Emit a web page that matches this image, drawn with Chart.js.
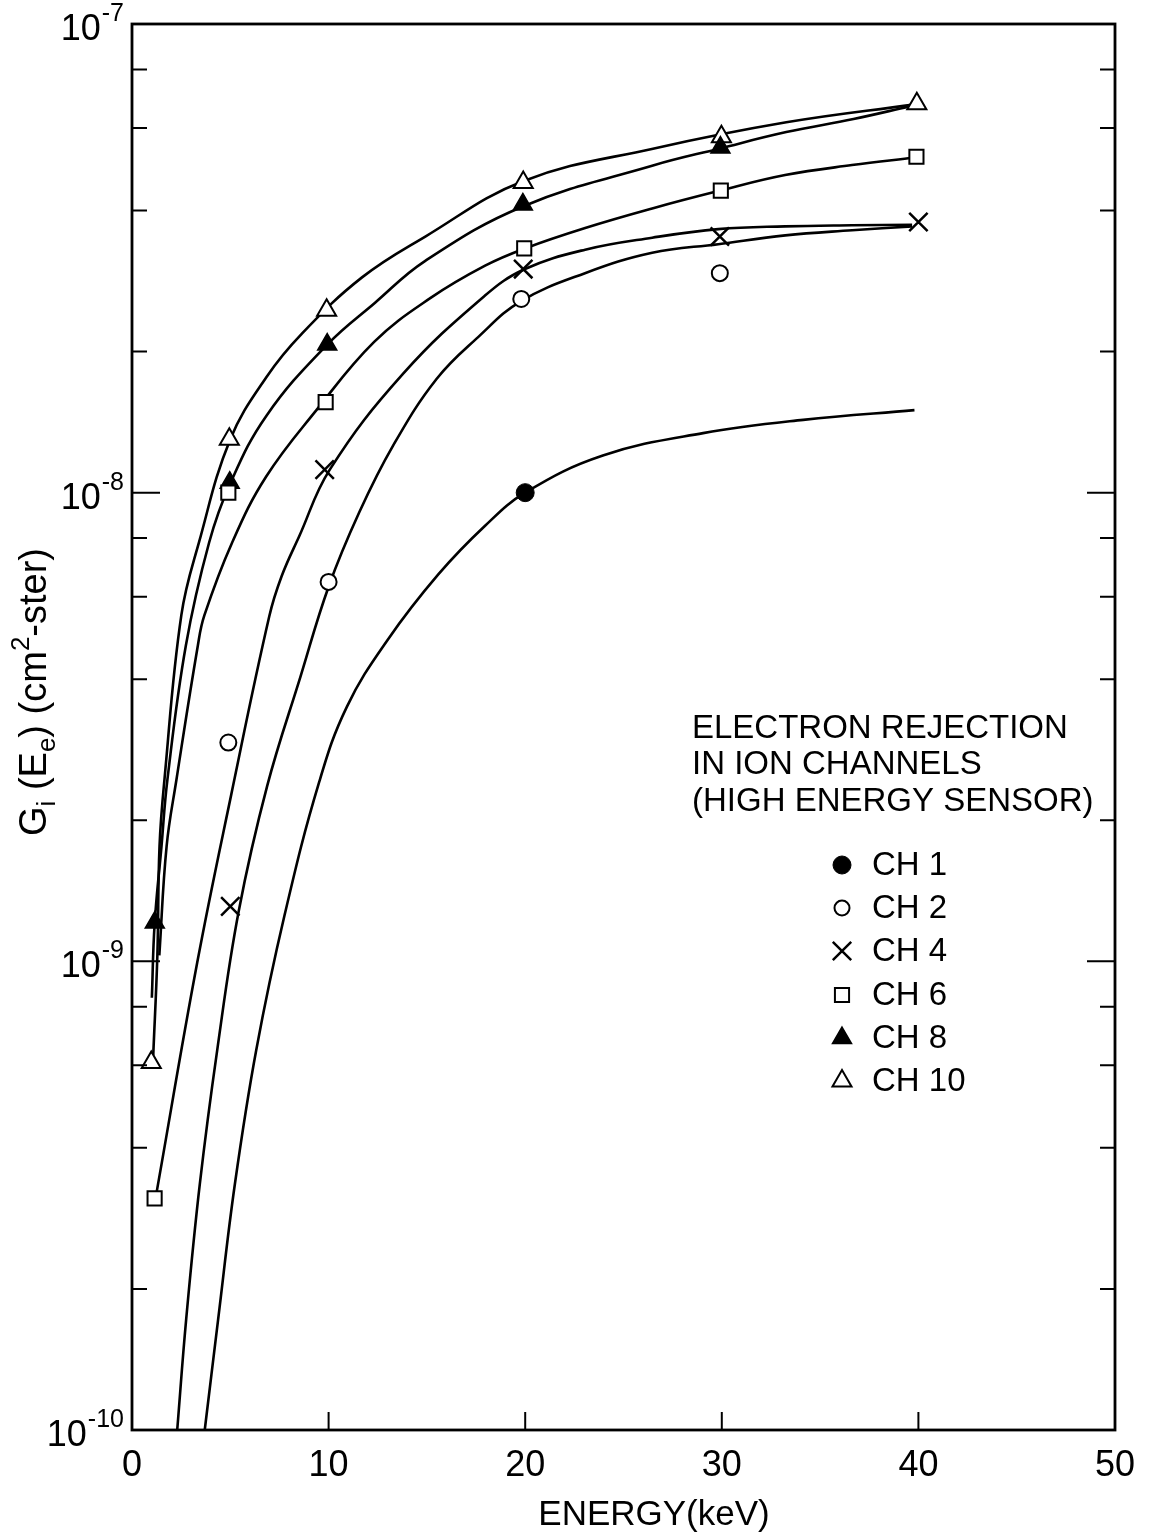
<!DOCTYPE html>
<html>
<head>
<meta charset="utf-8">
<script src="https://cdn.jsdelivr.net/npm/chart.js@4.4.1/dist/chart.umd.min.js"></script>
<style>
  html, body { margin: 0; padding: 0; background: #fff; }
  #wrap { width: 1161px; height: 1534px; }
</style>
</head>
<body>
<div id="wrap"><canvas id="c" width="1161" height="1534"></canvas></div>
<script>
// ---------------- DATA ----------------
// measured points (energy keV, G in cm^2-ster)
const energyCH1 = [20.0];
const gainCH1   = [1.0e-8];
const energyCH2 = [4.9, 10.0, 19.8, 29.9];
const gainCH2   = [2.93e-9, 6.45e-9, 2.59e-8, 2.94e-8];
const energyCH4 = [5.0, 9.8, 19.9, 29.9, 40.0];
const gainCH4   = [1.31e-9, 1.12e-8, 3.0e-8, 3.52e-8, 3.78e-8];
const energyCH6 = [1.15, 4.9, 9.85, 19.95, 29.95, 39.9];
const gainCH6   = [3.12e-10, 1.0e-8, 1.56e-8, 3.32e-8, 4.41e-8, 5.21e-8];
const energyCH8 = [1.16, 4.97, 9.93, 19.88, 29.93];
const gainCH8   = [1.21e-9, 1.05e-8, 2.07e-8, 4.12e-8, 5.45e-8];
const energyCH10 = [0.98, 4.95, 9.9, 19.9, 29.98, 39.92];
const gainCH10   = [6.08e-10, 1.30e-8, 2.45e-8, 4.59e-8, 5.75e-8, 6.76e-8];

// hand-drawn fit curves
const curveCH1E = [3.7, 4.38, 5.23, 6.32, 7.77, 9.53, 10.94, 13.0, 15.59, 17.96, 20.0, 23.95, 29.05, 34.14, 39.8];
const curveCH1G = [1.0e-10, 1.72e-10, 3.34e-10, 6.47e-10, 1.26e-9, 2.42e-9, 3.5e-9, 4.85e-9, 6.7e-9, 8.5e-9, 1.0e-8, 1.2e-8, 1.34e-8, 1.43e-8, 1.50e-8];
const curveCH2E = [2.3, 2.76, 3.45, 4.34, 5.43, 6.88, 8.57, 10.0, 11.56, 13.28, 15.5, 17.62, 19.77, 23.04, 26.46, 29.82, 33.23, 36.63, 39.68];
const curveCH2G = [1.0e-10, 1.73e-10, 3.35e-10, 6.49e-10, 1.28e-9, 2.37e-9, 4.05e-9, 6.30e-9, 9.08e-9, 1.26e-8, 1.75e-8, 2.15e-8, 2.56e-8, 2.94e-8, 3.25e-8, 3.39e-8, 3.54e-8, 3.63e-8, 3.70e-8];
const curveCH4E = [1.26, 3.32, 5.04, 6.98, 7.61, 8.50, 10.06, 13.77, 17.94, 19.99, 23.05, 26.46, 29.82, 33.22, 36.62, 39.68];
const curveCH4G = [3.23e-10, 9.95e-10, 2.26e-9, 5.44e-9, 6.63e-9, 8.06e-9, 1.12e-8, 1.79e-8, 2.63e-8, 3.0e-8, 3.30e-8, 3.50e-8, 3.65e-8, 3.70e-8, 3.72e-8, 3.73e-8];
const curveCH6E = [1.39, 1.76, 2.26, 3.35, 3.68, 5.09, 6.81, 9.38, 12.33, 15.17, 17.96, 19.99, 23.05, 26.46, 29.82, 33.22, 36.62, 39.82];
const curveCH6G = [1.03e-9, 1.76e-9, 2.44e-9, 4.72e-9, 5.47e-9, 7.82e-9, 1.08e-8, 1.50e-8, 2.10e-8, 2.60e-8, 3.05e-8, 3.32e-8, 3.67e-8, 4.04e-8, 4.40e-8, 4.76e-8, 5.0e-8, 5.19e-8];
const curveCH8E = [1.01, 1.15, 1.50, 1.80, 2.74, 3.92, 4.97, 6.84, 9.93, 12.35, 14.9, 19.88, 26.5, 29.86, 33.28, 36.7, 39.55];
const curveCH8G = [8.36e-10, 1.20e-9, 1.76e-9, 2.44e-9, 4.72e-9, 7.82e-9, 1.04e-8, 1.46e-8, 2.07e-8, 2.54e-8, 3.12e-8, 4.08e-8, 4.99e-8, 5.42e-8, 5.88e-8, 6.27e-8, 6.67e-8];
const curveCH10E = [1.08, 1.29, 1.40, 1.65, 2.51, 3.41, 5.0, 6.86, 8.62, 11.7, 14.92, 19.89, 26.5, 33.28, 39.74];
const curveCH10G = [6.3e-10, 1.03e-9, 1.76e-9, 2.44e-9, 5.48e-9, 7.84e-9, 1.30e-8, 1.77e-8, 2.18e-8, 2.88e-8, 3.52e-8, 4.62e-8, 5.42e-8, 6.17e-8, 6.73e-8];

// axes
const xTicks = [0, 10, 20, 30, 40, 50];
const xInnerTicks = [10, 20, 30, 40];
const yTicks = [1e-10, 2e-10, 4e-10, 6e-10, 8e-10, 1e-9, 2e-9, 4e-9, 6e-9, 8e-9, 1e-8, 2e-8, 4e-8, 6e-8, 8e-8, 1e-7];
const xTitle = 'ENERGY(keV)';
const noteLines = ['ELECTRON REJECTION', 'IN ION CHANNELS', '(HIGH ENERGY SENSOR)'];
const legendLabels = ['CH 1', 'CH 2', 'CH 4', 'CH 6', 'CH 8', 'CH 10'];

// ---------------- STYLE ----------------
const FONT = "'Liberation Sans', Arial, Helvetica, sans-serif";
const markerStyles = [
  { pointStyle: 'circle',   radius: 9,  fill: '#000', borderWidth: 1 },
  { pointStyle: 'circle',   radius: 8,  fill: '#fff', borderWidth: 2 },
  { pointStyle: 'crossRot', radius: 13, fill: '#000', borderWidth: 2.5 },
  { pointStyle: 'rect',     radius: 10, fill: '#fff', borderWidth: 2 },
  { pointStyle: 'triangle', radius: 11, fill: '#000', borderWidth: 1.5 },
  { pointStyle: 'triangle', radius: 11, fill: '#fff', borderWidth: 2 }
];
const markerSets = [
  [energyCH1, gainCH1], [energyCH2, gainCH2], [energyCH4, gainCH4],
  [energyCH6, gainCH6], [energyCH8, gainCH8], [energyCH10, gainCH10]
];
const curveSets = [
  [curveCH1E, curveCH1G], [curveCH2E, curveCH2G], [curveCH4E, curveCH4G],
  [curveCH6E, curveCH6G], [curveCH8E, curveCH8G], [curveCH10E, curveCH10G]
];
const zip = (xs, ys) => xs.map((x, i) => ({ x: x, y: ys[i] }));

const datasets = [];
curveSets.forEach((c, i) => {
  datasets.push({
    label: legendLabels[i] + ' fit',
    data: zip(c[0], c[1]),
    showLine: true,
    borderColor: '#000',
    borderWidth: 2.6,
    pointRadius: 0,
    pointHoverRadius: 0,
    tension: 0.4,
    fill: false,
    order: 2
  });
});
markerSets.forEach((m, i) => {
  const s = markerStyles[i];
  datasets.push({
    label: legendLabels[i],
    data: zip(m[0], m[1]),
    showLine: false,
    pointStyle: s.pointStyle,
    pointRadius: s.radius,
    pointHoverRadius: s.radius,
    pointBackgroundColor: s.fill,
    pointBorderColor: '#000',
    pointBorderWidth: s.borderWidth,
    order: 1
  });
});

function isDecade(v) {
  const l = Math.log10(v);
  return Math.abs(l - Math.round(l)) < 1e-6;
}

function drawMarker(ctx, s, x, y) {
  ctx.save();
  ctx.fillStyle = s.fill;
  ctx.strokeStyle = '#000';
  ctx.lineWidth = s.borderWidth;
  if (window.Chart && Chart.helpers && Chart.helpers.drawPoint) {
    Chart.helpers.drawPoint(ctx, { pointStyle: s.pointStyle, radius: s.radius, rotation: 0, borderWidth: s.borderWidth }, x, y);
  } else {
    ctx.beginPath(); ctx.arc(x, y, s.radius, 0, Math.PI * 2); ctx.fill(); ctx.stroke();
  }
  ctx.restore();
}

const deco = {
  id: 'deco',
  afterDraw(chart) {
    const ctx = chart.ctx, a = chart.chartArea;
    const xs = chart.scales.x, ys = chart.scales.y;
    ctx.save();
    ctx.strokeStyle = '#000';
    ctx.fillStyle = '#000';
    // frame
    ctx.lineWidth = 2.8;
    ctx.strokeRect(a.left, a.top, a.right - a.left, a.bottom - a.top);
    // inward y ticks, both sides
    ctx.lineWidth = 2;
    yTicks.forEach(v => {
      const y = ys.getPixelForValue(v);
      const len = isDecade(v) ? 28 : 15;
      ctx.beginPath();
      ctx.moveTo(a.left, y); ctx.lineTo(a.left + len, y);
      ctx.moveTo(a.right, y); ctx.lineTo(a.right - len, y);
      ctx.stroke();
    });
    // inward x ticks
    xInnerTicks.forEach(v => {
      const x = xs.getPixelForValue(v);
      ctx.beginPath(); ctx.moveTo(x, a.bottom); ctx.lineTo(x, a.bottom - 18); ctx.stroke();
    });
    // y tick labels 10^n
    ctx.textBaseline = 'alphabetic';
    ctx.textAlign = 'left';
    yTicks.filter(isDecade).forEach(v => {
      const y = ys.getPixelForValue(v);
      const exp = String(Math.round(Math.log10(v)));
      ctx.font = '36px ' + FONT;
      const wb = ctx.measureText('10').width;
      ctx.font = '25px ' + FONT;
      const we = ctx.measureText(exp).width;
      const x0 = a.left - 8 - wb - we - 1;
      ctx.font = '36px ' + FONT;
      ctx.fillText('10', x0, y + 16);
      ctx.font = '25px ' + FONT;
      ctx.fillText(exp, x0 + wb + 1, y - 3);
    });
    // y axis title (rotated) with sub/superscripts
    ctx.save();
    ctx.translate(46, 692);
    ctx.rotate(-Math.PI / 2);
    const segs = [
      ['G', 38, 0], ['i', 26, 9], [' (E', 38, 0], ['e', 26, 9],
      [') (cm', 38, 0], ['2', 26, -17], ['-ster)', 38, 0]
    ];
    let total = 0;
    segs.forEach(s => { ctx.font = s[1] + 'px ' + FONT; total += ctx.measureText(s[0]).width; });
    let cx = -total / 2;
    segs.forEach(s => {
      ctx.font = s[1] + 'px ' + FONT;
      ctx.fillText(s[0], cx, s[2]);
      cx += ctx.measureText(s[0]).width;
    });
    ctx.restore();
    // x axis title
    ctx.font = '35px ' + FONT;
    ctx.textAlign = 'center';
    ctx.fillText(xTitle, 654, 1525);
    // note
    ctx.textAlign = 'left';
    ctx.font = '33px ' + FONT;
    const noteBase = [738, 774, 811];
    noteLines.forEach((t, i) => ctx.fillText(t, 692, noteBase[i]));
    // legend
    const legBase = [875, 918, 961, 1005, 1048, 1091];
    legendLabels.forEach((t, i) => {
      const s = Object.assign({}, markerStyles[i]);
      if (i === 1) s.radius = 7.5;
      drawMarker(ctx, s, 842, legBase[i] - 10);
      ctx.fillStyle = '#000';
      ctx.font = '33px ' + FONT;
      ctx.fillText(t, 872, legBase[i]);
    });
    ctx.restore();
  }
};

new Chart(document.getElementById('c'), {
  type: 'scatter',
  data: { datasets: datasets },
  options: {
    responsive: false,
    animation: false,
    devicePixelRatio: 1,
    events: [],
    layout: { padding: { top: 24, right: 46, left: 0, bottom: 0 } },
    plugins: { legend: { display: false }, tooltip: { enabled: false }, title: { display: false } },
    scales: {
      x: {
        type: 'linear', min: 0, max: 50, position: 'bottom',
        afterBuildTicks: s => { s.ticks = xTicks.map(v => ({ value: v })); },
        afterFit: s => { s.height = 104; },
        ticks: { font: { family: FONT, size: 36 }, color: '#000', padding: 14, maxRotation: 0, autoSkip: false,
                 callback: v => String(v) },
        grid: { display: false, drawTicks: false },
        border: { display: false }
      },
      y: {
        type: 'logarithmic', min: 1e-10, max: 1e-7, position: 'left',
        afterBuildTicks: s => { s.ticks = yTicks.map(v => ({ value: v })); },
        afterFit: s => { s.width = 132; },
        ticks: { display: false },
        grid: { display: false, drawTicks: false },
        border: { display: false }
      }
    }
  },
  plugins: [deco]
});
</script>
</body>
</html>
